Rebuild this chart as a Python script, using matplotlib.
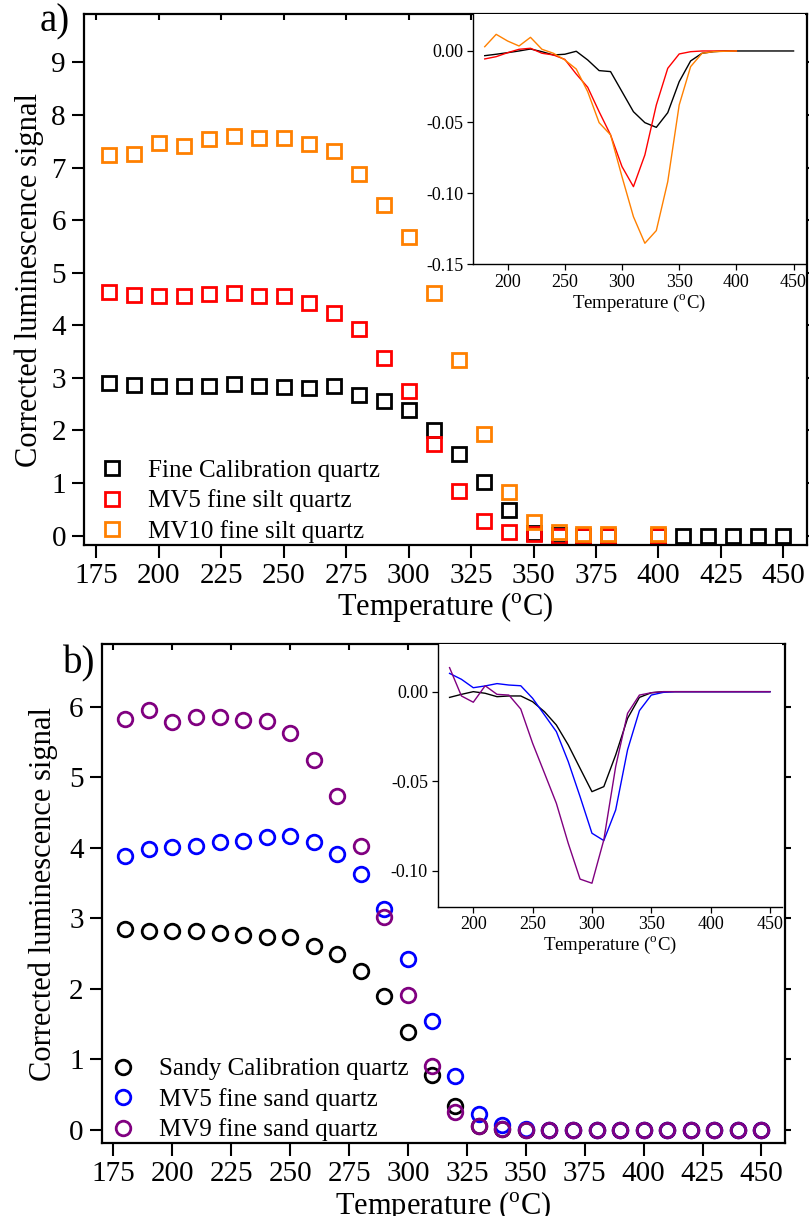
import matplotlib
matplotlib.use("Agg")
import matplotlib.pyplot as plt
import numpy as np

plt.rcParams['font.family'] = ['Liberation Serif', 'DejaVu Serif']
plt.rcParams['mathtext.fontset'] = 'custom'
plt.rcParams['mathtext.rm'] = 'Liberation Serif'
plt.rcParams['axes.unicode_minus'] = False

# ---------------- Panel a data ----------------
temp_a_black = [180, 190, 200, 210, 220, 230, 240, 250, 260, 270, 280, 290, 300, 310, 320, 330, 340,
                350, 360, 370, 380, 400, 410, 420, 430, 440, 450]
fine_cal = [2.90, 2.87, 2.85, 2.85, 2.85, 2.89, 2.85, 2.82, 2.80, 2.84, 2.68, 2.55, 2.39, 2.01, 1.56, 1.01, 0.49,
            0.05, 0.01, 0.0, 0.0, 0.0, 0.0, 0.0, 0.0, 0.0, 0.0]
temp_a_red = [180, 190, 200, 210, 220, 230, 240, 250, 260, 270, 280, 290, 300, 310, 320, 330, 340,
              350, 360, 370, 380, 400]
mv5_silt = [4.64, 4.58, 4.56, 4.56, 4.59, 4.61, 4.56, 4.56, 4.43, 4.23, 3.92, 3.37, 2.74, 1.75, 0.84, 0.28, 0.06,
            0.02, 0.0, 0.0, 0.0, 0.0]
temp_a_orange = [180, 190, 200, 210, 220, 230, 240, 250, 260, 270, 280, 290, 300, 310, 320, 330, 340,
                 350, 360, 370, 380, 400]
mv10_silt = [7.23, 7.26, 7.46, 7.40, 7.55, 7.60, 7.56, 7.57, 7.44, 7.31, 6.87, 6.29, 5.67, 4.62, 3.34, 1.93, 0.82,
             0.26, 0.06, 0.02, 0.02, 0.02]

# inset a (derivative curves)
temp_ins_a = [180, 190, 200, 210, 220, 230, 240, 250, 260, 270, 280, 290, 300, 310, 320, 330, 340, 350,
              360, 370, 380, 390, 400, 410, 420, 430, 440, 450]
d_fine_cal = [-0.0033, -0.0023, -0.0012, 0.0, 0.0014, -0.0005, -0.0028, -0.0023, -0.0002, -0.0063, -0.0138,
              -0.0145, -0.0286, -0.0427, -0.0504, -0.0537, -0.0434, -0.0216, -0.0070, -0.0016, -0.0005,
              0.0, 0.0, 0.0, 0.0, 0.0, 0.0, 0.0]
temp_ins_a_short = [180, 190, 200, 210, 220, 230, 240, 250, 260, 270, 280, 290, 300, 310, 320, 330, 340, 350,
                    360, 370, 380, 390, 400]
d_mv5_silt = [-0.0056, -0.0040, -0.0012, 0.0012, 0.0019, -0.0016, -0.0028, -0.0059, -0.0162, -0.0255, -0.0427,
              -0.0590, -0.0813, -0.0954, -0.0731, -0.0380, -0.0122, -0.0021, -0.0005, 0.0, 0.0, 0.0, 0.0]
d_mv10_silt = [0.0030, 0.0117, 0.0070, 0.0035, 0.0096, 0.0012, -0.0016, -0.0063, -0.0127, -0.0286, -0.0504,
               -0.0590, -0.0884, -0.1165, -0.1352, -0.1263, -0.0919, -0.0380, -0.0110, -0.0016, -0.0005,
               -0.0002, 0.0]

# ---------------- Panel b data ----------------
temp_b = [180, 190, 200, 210, 220, 230, 240, 250, 260, 270, 280, 290, 300, 310, 320, 330, 340, 350,
          360, 370, 380, 390, 400, 410, 420, 430, 440, 450]
sandy_cal = [2.85, 2.82, 2.82, 2.82, 2.79, 2.77, 2.73, 2.73, 2.61, 2.49, 2.25, 1.90, 1.39, 0.78, 0.34, 0.05,
             0.01, 0.0, 0.0, 0.0, 0.0, 0.0, 0.0, 0.0, 0.0, 0.0, 0.0, 0.0]
mv5_sand = [3.88, 3.98, 4.01, 4.02, 4.08, 4.10, 4.15, 4.17, 4.08, 3.91, 3.63, 3.13, 2.43, 1.54, 0.77, 0.22,
            0.07, 0.01, 0.0, 0.0, 0.0, 0.0, 0.0, 0.0, 0.0, 0.0, 0.0, 0.0]
mv9_sand = [5.83, 5.95, 5.78, 5.85, 5.85, 5.81, 5.80, 5.63, 5.25, 4.74, 4.02, 3.02, 1.91, 0.90, 0.26, 0.05,
            0.01, 0.0, 0.0, 0.0, 0.0, 0.0, 0.0, 0.0, 0.0, 0.0, 0.0, 0.0]

d_sandy_cal = [-0.0032, -0.0015, 0.0, -0.0009, -0.0028, -0.0024, -0.0024, -0.0056, -0.0112, -0.0186, -0.0297,
               -0.0428, -0.0558, -0.0530, -0.0353, -0.0149, -0.0032, -0.0006, 0.0, 0.0, 0.0, 0.0, 0.0, 0.0,
               0.0, 0.0, 0.0, 0.0]
d_mv5_sand = [0.0102, 0.0069, 0.0022, 0.0032, 0.0045, 0.0037, 0.0033, -0.0037, -0.0130, -0.0223, -0.0390,
              -0.0586, -0.0790, -0.0831, -0.0660, -0.0325, -0.0106, -0.0019, -0.0004, 0.0, 0.0, 0.0, 0.0,
              0.0, 0.0, 0.0, 0.0, 0.0]
d_mv9_sand = [0.0134, -0.0024, -0.0059, 0.0033, -0.0015, -0.0019, -0.0097, -0.0288, -0.0455, -0.0623, -0.0846,
              -0.1046, -0.1069, -0.0827, -0.0418, -0.0121, -0.0019, -0.0006, 0.0, 0.0, 0.0, 0.0, 0.0, 0.0,
              0.0, 0.0, 0.0, 0.0]

main_xticks = list(range(175, 451, 25))
ins_xticks = list(range(200, 451, 50))

C_BLACK = 'black'
C_RED = '#ff0000'
C_ORANGE = '#ff8000'
C_BLUE = '#0000ff'
C_PURPLE = '#800080'

W, H = 809, 1216
fig = plt.figure(figsize=(W / 100, H / 100), dpi=100)


def fx(px):
    return px / W


def fy(py):
    return 1 - py / H


def style_main(ax):
    for s in ax.spines.values():
        s.set_linewidth(1.6)
    ax.tick_params(axis='both', which='major', direction='out', length=9, width=1.5,
                   labelsize=21, pad=4)
    ax.tick_params(axis='x', top=True, labeltop=False)
    ax.tick_params(axis='y', right=True, labelright=False)
    for t in ax.xaxis.get_major_ticks():
        t.tick2line.set_markersize(4)
        t.tick2line.set_marker(matplotlib.lines.TICKDOWN)
    for t in ax.yaxis.get_major_ticks():
        t.tick2line.set_markersize(4)


def style_inset(ax):
    ax.set_facecolor('white')
    ax.spines['top'].set_visible(False)
    ax.spines['right'].set_visible(False)
    for s in ['left', 'bottom']:
        ax.spines[s].set_linewidth(1.0)
    ax.tick_params(axis='both', direction='out', length=4, width=0.9, labelsize=13, pad=3)


mk = dict(linestyle='none', markersize=10.5, markeredgewidth=2.0, markerfacecolor='none')
leg_kw = dict(loc='lower left', frameon=False, fontsize=18, handletextpad=0.85,
              labelspacing=0.3, handlelength=1.2, borderaxespad=0.0, borderpad=0.0)

# ---------------- Panel a ----------------
axa = fig.add_axes([fx(84), fy(545), fx(807 - 84), (545 - 14) / H])
axa.plot(temp_a_black, fine_cal, marker='s', color=C_BLACK, label='Fine Calibration quartz', **mk)
axa.plot(temp_a_red, mv5_silt, marker='s', color=C_RED, label='MV5 fine silt quartz', **mk)
axa.plot(temp_a_orange, mv10_silt, marker='s', color=C_ORANGE, label='MV10 fine silt quartz', **mk)
axa.set_xlim(170, 459.5)
axa.set_ylim(-0.18, 9.92)
axa.set_xticks(main_xticks)
axa.set_yticks(range(0, 10))
style_main(axa)
axa.set_xlabel(r'Temperature ($^{\rm o}$C)', fontsize=22, labelpad=1)
axa.set_ylabel('Corrected luminescence signal', fontsize=22, labelpad=5)
axa.legend(bbox_to_anchor=(0.018, 0.004), **leg_kw)
fig.text(fx(40), fy(22), 'a)', fontsize=28, ha='left', va='center')

insa = fig.add_axes([fx(473.3), fy(264.3), fx(805 - 473.3), (264.3 - 14) / H])
insa.plot(temp_ins_a, d_fine_cal, color=C_BLACK, lw=1.0)
insa.plot(temp_ins_a_short, d_mv5_silt, color=C_RED, lw=1.0)
insa.plot(temp_ins_a_short, d_mv10_silt, color=C_ORANGE, lw=1.0)
insa.set_xlim(170, 460)
insa.set_ylim(-0.15, 0.026)
insa.set_xticks(ins_xticks)
insa.set_yticks([0.0, -0.05, -0.10, -0.15])
insa.set_yticklabels(['0.00', '-0.05', '-0.10', '-0.15'])
style_inset(insa)
insa.set_xlabel(r'Temperature ($^{\rm o}$C)', fontsize=13.5, labelpad=1)

# ---------------- Panel b ----------------
axb = fig.add_axes([fx(101.7), fy(1143.3), fx(785 - 101.7), (1143.3 - 644) / H])
axb.plot(temp_b, sandy_cal, marker='o', color=C_BLACK, label='Sandy Calibration quartz', **mk)
axb.plot(temp_b, mv5_sand, marker='o', color=C_BLUE, label='MV5 fine sand quartz', **mk)
axb.plot(temp_b, mv9_sand, marker='o', color=C_PURPLE, label='MV9 fine sand quartz', **mk)
axb.set_xlim(170, 460)
axb.set_ylim(-0.19, 6.89)
axb.set_xticks(main_xticks)
axb.set_yticks(range(0, 7))
style_main(axb)
axb.set_xlabel(r'Temperature ($^{\rm o}$C)', fontsize=22, labelpad=1)
axb.set_ylabel('Corrected luminescence signal', fontsize=22, labelpad=8)
axb.legend(bbox_to_anchor=(0.009, 0.004), **leg_kw)
fig.text(fx(63), fy(664), 'b)', fontsize=28, ha='left', va='center')

insb = fig.add_axes([fx(437.7), fy(906.7), fx(781.8 - 437.7), (906.7 - 644) / H])
insb.plot(temp_b, d_sandy_cal, color=C_BLACK, lw=1.0)
insb.plot(temp_b, d_mv5_sand, color=C_BLUE, lw=1.0)
insb.plot(temp_b, d_mv9_sand, color=C_PURPLE, lw=1.0)
insb.set_xlim(170, 460)
insb.set_ylim(-0.12, 0.0266)
insb.set_xticks(ins_xticks)
insb.set_yticks([0.0, -0.05, -0.10])
insb.set_yticklabels(['0.00', '-0.05', '-0.10'])
style_inset(insb)
insb.set_xlabel(r'Temperature ($^{\rm o}$C)', fontsize=13.5, labelpad=1)

fig.savefig('out.png', dpi=100)
